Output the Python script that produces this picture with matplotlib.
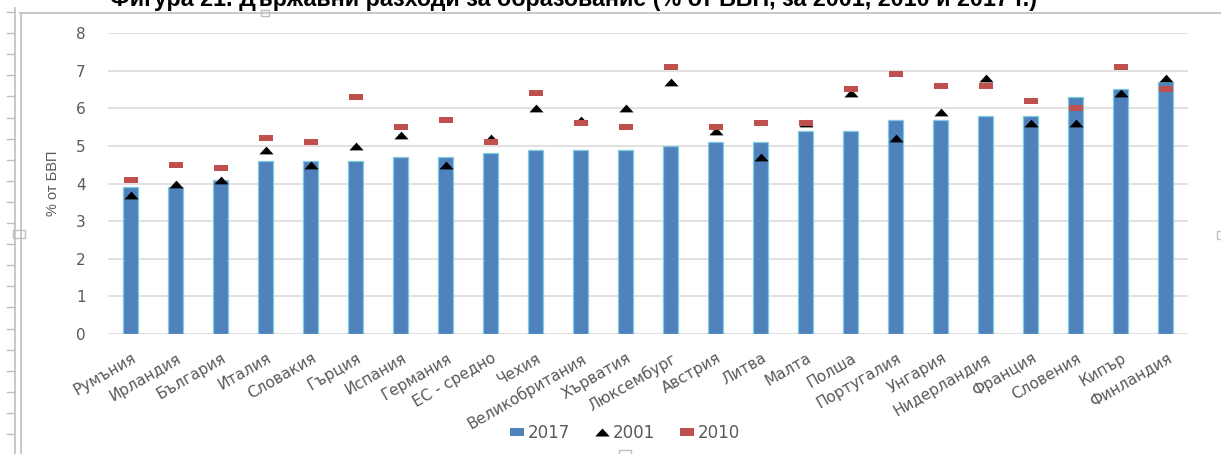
import matplotlib
matplotlib.use("Agg")
import matplotlib.pyplot as plt
from matplotlib.lines import Line2D
from matplotlib.patches import Rectangle
from matplotlib.path import Path
import matplotlib.transforms as mtransforms

# --- data -------------------------------------------------------------
countries = ['Румъния', 'Ирландия', 'България', 'Италия', 'Словакия', 'Гърция',
             'Испания', 'Германия', 'ЕС - средно', 'Чехия', 'Великобритания',
             'Хърватия', 'Люксембург', 'Австрия', 'Литва', 'Малта', 'Полша',
             'Португалия', 'Унгария', 'Нидерландия', 'Франция', 'Словения',
             'Кипър', 'Финландия']
v2017 = [3.9, 3.9, 4.1, 4.6, 4.6, 4.6, 4.7, 4.7, 4.8, 4.9, 4.9, 4.9,
         5.0, 5.1, 5.1, 5.4, 5.4, 5.7, 5.7, 5.8, 5.8, 6.3, 6.5, 6.7]
v2001 = [3.7, 4.0, 4.1, 4.9, 4.5, 5.0, 5.3, 4.5, 5.2, 6.0, 5.7, 6.0,
         6.7, 5.4, 4.7, 5.6, 6.4, 5.2, 5.9, 6.8, 5.6, 5.6, 6.4, 6.8]
v2010 = [4.1, 4.5, 4.4, 5.2, 5.1, 6.3, 5.5, 5.7, 5.1, 6.4, 5.6, 5.5,
         7.1, 5.5, 5.6, 5.6, 6.5, 6.9, 6.6, 6.6, 6.2, 6.0, 7.1, 6.5]
series_names = ['2017', '2001', '2010']
yticks = [0, 1, 2, 3, 4, 5, 6, 7, 8]
title = 'Фигура 21. Държавни разходи за образование (% от БВП, за 2001, 2010 и 2017 г.)'
ylabel = '% от БВП'

# --- style ------------------------------------------------------------
W, H = 1221, 454
BLUE = '#4F81BD'
BLUE_EDGE = '#7FCBE0'
RED = '#C0504D'
GRID = '#D9D9D9'
TXT = '#595959'
FRAME = '#BFBFBF'
plt.rcParams['font.family'] = ['Liberation Sans', 'DejaVu Sans']

fig = plt.figure(figsize=(W / 100, H / 100), dpi=100)
fig.patch.set_facecolor('white')


def fx(x):
    return x / W


def fy(y):
    return 1 - y / H


ax = fig.add_axes([fx(108), fy(334), fx(1188) - fx(108), fy(33) - fy(334)])

# wide marker shapes (chart is stretched horizontally)
tri = Path([(-1, -0.55), (1, -0.55), (0, 0.55), (-1, -0.55)],
           [Path.MOVETO, Path.LINETO, Path.LINETO, Path.CLOSEPOLY])
rect = Path([(-1, -0.5), (1, -0.5), (1, 0.5), (-1, 0.5), (-1, -0.5)],
            [Path.MOVETO, Path.LINETO, Path.LINETO, Path.LINETO, Path.CLOSEPOLY])

x = list(range(len(countries)))
ax.bar(x, v2017, width=0.34, color=BLUE, edgecolor=BLUE_EDGE, linewidth=0.9, zorder=2)
ax.plot(x, v2001, linestyle='none', marker=tri, markersize=10.2,
        color='black', markeredgewidth=0, zorder=3)
ax.plot(x, v2010, linestyle='none', marker=rect, markersize=9.4,
        color=RED, markeredgewidth=0, zorder=4)

ax.set_xlim(-0.5, len(countries) - 0.5)
ax.set_ylim(0, 8)
ax.set_yticks(yticks)
ax.yaxis.grid(True, color=GRID, linewidth=1.1, zorder=0)
ax.set_axisbelow(True)
for s in ax.spines.values():
    s.set_visible(False)
ax.tick_params(axis='both', length=0, colors=TXT)
ax.tick_params(axis='y', pad=16, labelsize=11, labelfontfamily='DejaVu Sans')

ax.set_xticks(x)
ax.set_xticklabels(countries, rotation=30, ha='right', va='top',
                   rotation_mode='anchor', fontsize=11, color=TXT,
                   fontfamily='DejaVu Sans')
ax.tick_params(axis='x', pad=12)
off = mtransforms.ScaledTranslation(1 / 100, 0, fig.dpi_scale_trans)
for lab in ax.get_xticklabels():
    lab.set_transform(lab.get_transform() + off)

fig.text(fx(53), (fy(33) + fy(334)) / 2, ylabel, rotation=90, ha='center',
         va='center', color=TXT, fontsize=10.5)

# legend
handles = [
    Line2D([], [], linestyle='none', marker=rect, markersize=10.5, color=BLUE,
           markeredgewidth=0),
    Line2D([], [], linestyle='none', marker=tri, markersize=10.5, color='black',
           markeredgewidth=0),
    Line2D([], [], linestyle='none', marker=rect, markersize=10.5, color=RED,
           markeredgewidth=0),
]
fig.legend(handles, series_names, loc='center', bbox_to_anchor=(fx(625), fy(433)),
           ncol=3, frameon=False, labelcolor=TXT,
           handlelength=0.8, handletextpad=0.25, columnspacing=1.5,
           prop={'family': 'DejaVu Sans', 'size': 12})

# title, partially above the top edge of the canvas
t = fig.text(fx(110), fy(6), title, ha='left', va='baseline',
             fontsize=14, fontweight='bold', color='black')
fig.canvas.draw()
w = t.get_window_extent(fig.canvas.get_renderer()).width
t.set_fontsize(14 * 926 / w)

# object frame with handles and ruler
frame_lines = [
    ([20, W], [13, 13]),
    ([15, 15], [8, H]),
    ([21, 21], [13, H]),
]
for xs, ys in frame_lines:
    fig.add_artist(Line2D([fx(v) for v in xs], [fy(v) for v in ys],
                          color=FRAME, linewidth=1.2, transform=fig.transFigure))
ruler_y = [12 + 21.1 * k for k in range(22)]
for ry in ruler_y:
    fig.add_artist(Line2D([fx(7), fx(14)], [fy(ry), fy(ry)], color=FRAME,
                          linewidth=1.0, transform=fig.transFigure))
for hx, hy, hw, hh in [(261, 10, 8, 6), (13, 230, 12, 8), (1217, 231, 6, 8), (619, 450, 12, 6)]:
    fig.add_artist(Rectangle((fx(hx), fy(hy + hh)), hw / W, hh / H,
                             facecolor='white', edgecolor=FRAME, linewidth=1.0,
                             transform=fig.transFigure))

fig.savefig('out.png', dpi=100)
